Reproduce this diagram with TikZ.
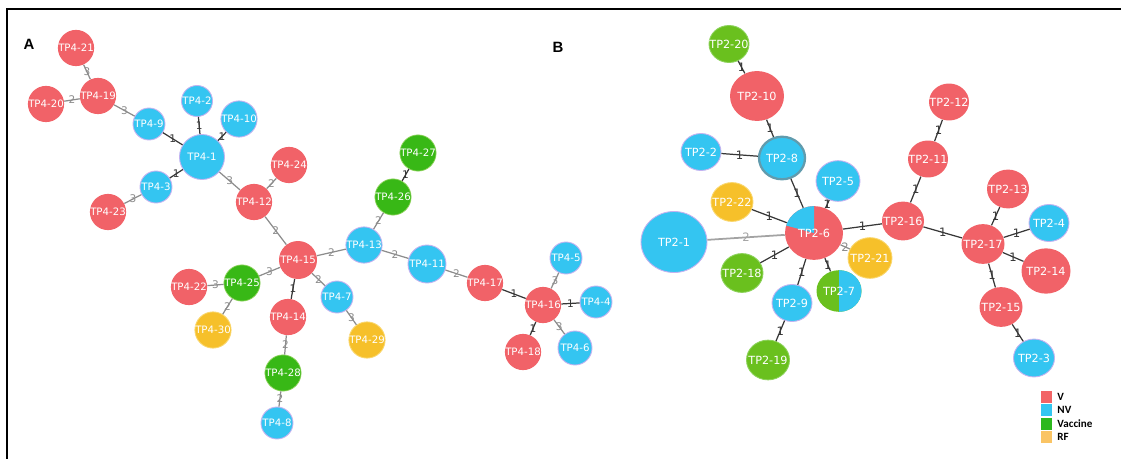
\documentclass[tikz,border=0pt]{standalone}
\usepackage{fontspec}
\setmainfont{DejaVu Sans}
\newfontfamily\legfont{Carlito}
\newfontfamily\panelfont{Liberation Sans}
\usetikzlibrary{shapes.geometric}

\definecolor{vred}{RGB}{241,98,104}
\definecolor{nvblue}{RGB}{52,197,241}
\definecolor{nvrim}{RGB}{196,178,240}
\definecolor{vacgreen}{RGB}{56,184,22}
\definecolor{vacgreenb}{RGB}{106,192,30}
\definecolor{vacrim}{RGB}{140,210,90}
\definecolor{rfyellow}{RGB}{246,192,42}
\definecolor{rfrim}{RGB}{250,215,110}
\definecolor{edgedark}{RGB}{55,55,55}
\definecolor{edgegray}{RGB}{140,140,140}
\definecolor{legred}{RGB}{242,100,102}
\definecolor{legblue}{RGB}{50,198,240}
\definecolor{leggreen}{RGB}{44,184,30}
\definecolor{legorange}{RGB}{250,196,100}

\tikzset{
  tpa/.style={circle, inner sep=0pt, text=white, minimum size=#1*0.02cm,
    font=\fontsize{5.8}{6.5}\selectfont},
  tpb/.style={ellipse, inner sep=0pt, minimum width=#1*0.02cm,
    minimum height=#1*0.0185cm},
  vfill/.style={fill=vred},
  nvfill/.style={fill=nvblue, draw=nvrim, line width=0.5pt},
  vacfill/.style={fill=vacgreen, draw=vacrim, line width=0.4pt},
  vacfillb/.style={fill=vacgreenb, draw=vacrim, line width=0.5pt},
  rffill/.style={fill=rfyellow, draw=rfrim, line width=0.5pt},
  hop1/.style={color=edgedark, line width=0.7pt},
  hopn/.style={color=edgegray, line width=0.7pt},
  lba/.style={font=\fontsize{6}{6.5}\selectfont, inner sep=0.5pt},
  lbb/.style={font=\fontsize{6.6}{7}\selectfont, inner sep=0.5pt},
  legsq/.style={rectangle, inner sep=0pt, minimum width=11*0.02cm, minimum height=12*0.02cm},
  legtxt/.style={text=black, font=\legfont\bfseries\fontsize{6.3}{7}\selectfont, xshift=3pt},
  panel/.style={font=\panelfont\bfseries\fontsize{8.5}{10}\selectfont}
}

\begin{document}
\begin{tikzpicture}[x=0.02cm, y=-0.02cm,
  every label/.style={text=white, inner sep=0pt, font=\fontsize{6.4}{7.5}\selectfont}]
    \useasboundingbox (0,0) rectangle (1121,459);
    \draw[line width=0.85pt] (7,459) -- (7,9) -- (1121,9);

    \node[panel] (pa) at (29, 44) {A};
    \node[panel] (pb) at (558, 47) {B};

    \node[tpa=34, vfill] (tp4x21) at (76, 48) {TP4-21};
    \node[tpa=34, vfill] (tp4x19) at (98, 96) {TP4-19};
    \node[tpa=34, vfill] (tp4x20) at (46, 104) {TP4-20};
    \node[tpa=32, nvfill] (tp4x9) at (149, 124) {TP4-9};
    \node[tpa=31, nvfill] (tp4x2) at (197, 101) {TP4-2};
    \node[tpa=32, nvfill] (tp4x10) at (239, 119) {TP4-10};
    \node[tpa=45, nvfill] (tp4x1) at (202, 157) {TP4-1};
    \node[tpa=34, vfill] (tp4x24) at (289, 165) {TP4-24};
    \node[tpa=32, nvfill] (tp4x3) at (156, 187) {TP4-3};
    \node[tpa=33, vfill] (tp4x23) at (108, 212) {TP4-23};
    \node[tpa=34, vfill] (tp4x12) at (254, 202) {TP4-12};
    \node[tpa=38, vfill] (tp4x15) at (298, 260) {TP4-15};
    \node[tpa=36, nvfill] (tp4x13) at (364, 245) {TP4-13};
    \node[tpa=38, nvfill] (tp4x11) at (427, 264) {TP4-11};
    \node[tpa=35, vacfill] (tp4x25) at (242, 283) {TP4-25};
    \node[tpa=33, vfill] (tp4x22) at (189, 287) {TP4-22};
    \node[tpa=35, rffill] (tp4x30) at (213, 330) {TP4-30};
    \node[tpa=33, vfill] (tp4x14) at (288, 317) {TP4-14};
    \node[tpa=32, nvfill] (tp4x7) at (337, 297) {TP4-7};
    \node[tpa=34, rffill] (tp4x29) at (367, 340) {TP4-29};
    \node[tpa=32, vacfill] (tp4x28) at (283, 373) {TP4-28};
    \node[tpa=32, nvfill] (tp4x8) at (277, 423) {TP4-8};
    \node[tpa=34, vacfill] (tp4x27) at (418, 153) {TP4-27};
    \node[tpa=35, vacfill] (tp4x26) at (393, 197) {TP4-26};
    \node[tpa=34, vfill] (tp4x17) at (485, 283) {TP4-17};
    \node[tpa=36, vfill] (tp4x16) at (543, 305) {TP4-16};
    \node[tpa=32, nvfill] (tp4x5) at (566, 258) {TP4-5};
    \node[tpa=32, nvfill] (tp4x4) at (596, 302) {TP4-4};
    \node[tpa=34, nvfill] (tp4x6) at (575, 348) {TP4-6};
    \node[tpa=34, vfill] (tp4x18) at (523, 352) {TP4-18};

    \draw[hopn] (tp4x21) -- node[lba] {3} (tp4x19);
    \draw[hopn] (tp4x20) -- node[lba] {2} (tp4x19);
    \draw[hopn] (tp4x19) -- node[lba] {3} (tp4x9);
    \draw[hop1] (tp4x9) -- node[lba] {1} (tp4x1);
    \draw[hop1] (tp4x2) -- node[lba] {1} (tp4x1);
    \draw[hop1] (tp4x10) -- node[lba] {1} (tp4x1);
    \draw[hop1] (tp4x3) -- node[lba] {1} (tp4x1);
    \draw[hopn] (tp4x23) -- node[lba] {3} (tp4x3);
    \draw[hopn] (tp4x1) -- node[lba] {3} (tp4x12);
    \draw[hopn] (tp4x24) -- node[lba] {2} (tp4x12);
    \draw[hopn] (tp4x12) -- node[lba] {2} (tp4x15);
    \draw[hopn] (tp4x15) -- node[lba] {2} (tp4x13);
    \draw[hopn] (tp4x13) -- node[lba] {2} (tp4x26);
    \draw[hop1] (tp4x26) -- node[lba] {1} (tp4x27);
    \draw[hopn] (tp4x13) -- node[lba] {2} (tp4x11);
    \draw[hopn] (tp4x11) -- node[lba] {2} (tp4x17);
    \draw[hop1] (tp4x17) -- node[lba] {1} (tp4x16);
    \draw[hopn] (tp4x16) -- node[lba] {3} (tp4x5);
    \draw[hop1] (tp4x16) -- node[lba] {1} (tp4x4);
    \draw[hopn] (tp4x16) -- node[lba] {3} (tp4x6);
    \draw[hop1] (tp4x18) -- node[lba] {1} (tp4x16);
    \draw[hopn] (tp4x15) -- node[lba] {3} (tp4x25);
    \draw[hopn] (tp4x22) -- node[lba] {3} (tp4x25);
    \draw[hopn] (tp4x25) -- node[lba] {2} (tp4x30);
    \draw[hop1] (tp4x14) -- node[lba] {1} (tp4x15);
    \draw[hopn] (tp4x15) -- node[lba] {2} (tp4x7);
    \draw[hopn] (tp4x7) -- node[lba] {3} (tp4x29);
    \draw[hopn] (tp4x28) -- node[lba] {2} (tp4x14);
    \draw[hopn] (tp4x8) -- node[lba] {2} (tp4x28);

    \node[tpb=40, vacfillb, label=center:TP2-20] (tp2x20) at (729, 44) {};
    \node[tpb=54, vfill, label=center:TP2-10] (tp2x10) at (757, 96) {};
    \node[tpb=40, nvfill, label=center:TP2-2] (tp2x2) at (701, 152) {};
    \node[tpb=46, fill=nvblue, draw=gray!60!nvblue, line width=1.3pt, label=center:TP2-8] (tp2x8) at (782, 158) {};
    \node[tpb=44, nvfill, label=center:TP2-5] (tp2x5) at (838, 181) {};
    \node[tpb=42, rffill, label=center:TP2-22] (tp2x22) at (732, 202) {};
    \node[tpb=58, vfill, path picture={\fill[nvblue] (path picture bounding box.center) -- +(90:2cm) -- +(165:2cm) -- cycle;},
      label=center:TP2-6] (tp2x6) at (814, 233) {};
    \node[tpb=66, nvfill, label=center:TP2-1] (tp2x1) at (674, 242) {};
    \node[tpb=42, vfill, label=center:TP2-16] (tp2x16) at (903, 221) {};
    \node[tpb=44, rffill, label=center:TP2-21] (tp2x21) at (870, 258) {};
    \node[tpb=42, vacfillb, label=center:TP2-18] (tp2x18) at (742, 273) {};
    \node[tpb=45, fill=vacgreenb, path picture={\fill[nvblue] (path picture bounding box.north) rectangle (path picture bounding box.south east);},
      label=center:TP2-7] (tp2x7) at (839, 291) {};
    \node[tpb=40, nvfill, label=center:TP2-9] (tp2x9) at (792, 303) {};
    \node[tpb=43, vacfillb, label=center:TP2-19] (tp2x19) at (768, 360) {};
    \node[tpb=40, vfill, label=center:TP2-12] (tp2x12) at (949, 102) {};
    \node[tpb=40, vfill, label=center:TP2-11] (tp2x11) at (928, 159) {};
    \node[tpb=42, vfill, label=center:TP2-13] (tp2x13) at (1008, 189) {};
    \node[tpb=40, nvfill, label=center:TP2-4] (tp2x4) at (1049, 223) {};
    \node[tpb=43, vfill, label=center:TP2-17] (tp2x17) at (983, 244) {};
    \node[tpb=49, vfill, label=center:TP2-14] (tp2x14) at (1046, 271) {};
    \node[tpb=43, vfill, label=center:TP2-15] (tp2x15) at (1001, 307) {};
    \node[tpb=41, nvfill, label=center:TP2-3] (tp2x3) at (1034, 358) {};

    \draw[hop1] (tp2x20) -- node[lbb] {1} (tp2x10);
    \draw[hop1] (tp2x10) -- node[lbb] {1} (tp2x8);
    \draw[hop1] (tp2x2) -- node[lbb] {1} (tp2x8);
    \draw[hop1] (tp2x8) -- node[lbb] {1} (tp2x6);
    \draw[hop1] (tp2x5) -- node[lbb] {1} (tp2x6);
    \draw[hop1] (tp2x22) -- node[lbb] {1} (tp2x6);
    \draw[color=edgegray!80, line width=1pt] (tp2x1) -- node[lbb] {2} (tp2x6);
    \draw[hop1] (tp2x18) -- node[lbb] {1} (tp2x6);
    \draw[hop1] (tp2x9) -- node[lbb] {1} (tp2x6);
    \draw[hop1] (tp2x7) -- node[lbb] {1} (tp2x6);
    \draw[hopn] (tp2x6) -- node[lbb] {2} (tp2x21);
    \draw[hop1] (tp2x19) -- node[lbb] {1} (tp2x9);
    \draw[hop1] (tp2x6) -- node[lbb] {1} (tp2x16);
    \draw[hop1] (tp2x16) -- node[lbb] {1} (tp2x11);
    \draw[hop1] (tp2x11) -- node[lbb] {1} (tp2x12);
    \draw[hop1] (tp2x16) -- node[lbb] {1} (tp2x17);
    \draw[hop1] (tp2x17) -- node[lbb] {1} (tp2x13);
    \draw[hop1] (tp2x17) -- node[lbb] {1} (tp2x4);
    \draw[hop1] (tp2x17) -- node[lbb] {1} (tp2x14);
    \draw[hop1] (tp2x17) -- node[lbb] {1} (tp2x15);
    \draw[hop1] (tp2x15) -- node[lbb] {1} (tp2x3);

    \node[legsq, fill=legred, label={[legtxt]right:V}] (legv) at (1046, 397) {};
    \node[legsq, fill=legblue, label={[legtxt]right:NV}] (legnv) at (1046, 410) {};
    \node[legsq, fill=leggreen, label={[legtxt]right:Vaccine}] (legvac) at (1046, 424) {};
    \node[legsq, fill=legorange, label={[legtxt]right:RF}] (legrf) at (1046, 437) {};
\end{tikzpicture}
\end{document}
